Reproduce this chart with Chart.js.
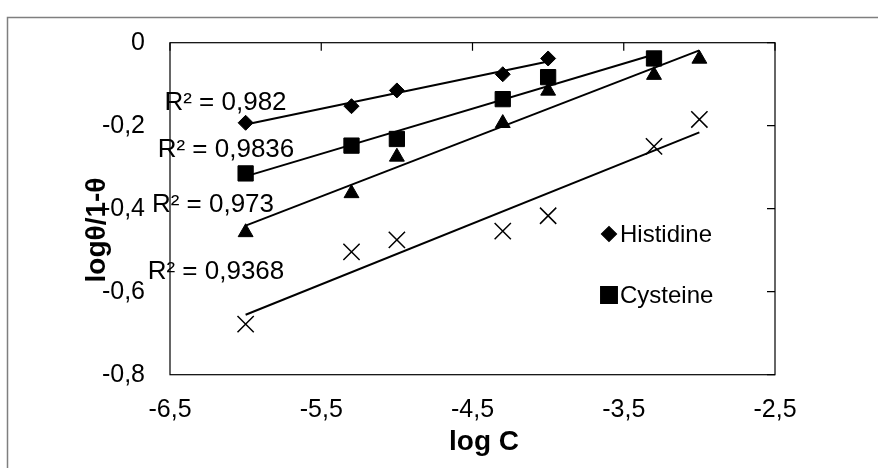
<!DOCTYPE html>
<html>
<head>
<meta charset="utf-8">
<script src="https://cdn.jsdelivr.net/npm/chart.js@4/dist/chart.umd.min.js"></script>
<style>
html,body{margin:0;padding:0;background:#fff;}
canvas{display:block;}
</style>
</head>
<body>
<canvas id="c" width="878" height="468"></canvas>
<script>
// ---- data ----
const logC = [-6, -5.3, -5, -4.3, -4, -3.3, -3];
const histidineY = [-0.193, -0.153, -0.115, -0.076, -0.038];
const cysteineY  = [-0.315, -0.248, -0.232, -0.136, -0.083, -0.038];
const series3Y   = [-0.457, -0.363, -0.275, -0.194, -0.116, -0.078, -0.039];
const series4Y   = [-0.678, -0.504, -0.475, -0.454, -0.417, -0.250, -0.185];
const seriesNames = ['Histidine', 'Cysteine', 'Series 3', 'Series 4'];
const legendShown = ['Histidine', 'Cysteine'];
const r2Texts = ['R² = 0,982', 'R² = 0,9836', 'R² = 0,973', 'R² = 0,9368'];
const xTickValues = [-6.5, -5.5, -4.5, -3.5, -2.5];
const yTickValues = [0, -0.2, -0.4, -0.6, -0.8];
const xTitle = 'log C';
const yTitle = 'logθ/1-θ';

const FONT = "'Liberation Sans', Arial, sans-serif";

function pts(ys) { return ys.map((y, i) => ({ x: logC[i], y: y })); }
// least-squares trend line (as Excel's linear trendline), from first to last x
function trend(ys) {
  const n = ys.length, xs = logC.slice(0, n);
  const mx = xs.reduce((a, b) => a + b, 0) / n, my = ys.reduce((a, b) => a + b, 0) / n;
  let sxy = 0, sxx = 0;
  for (let i = 0; i < n; i++) { sxy += (xs[i] - mx) * (ys[i] - my); sxx += (xs[i] - mx) ** 2; }
  const b = sxy / sxx, a = my - b * mx;
  return [{ x: xs[0], y: a + b * xs[0] }, { x: xs[n - 1], y: a + b * xs[n - 1] }];
}
function fmt(v) { return Math.abs(v) < 1e-9 ? '0' : Number(v).toFixed(1).replace('.', ','); }

const allY = [histidineY, cysteineY, series3Y, series4Y];
const markerStyles = [
  { pointStyle: 'rectRot', pointRadius: 7.5, borderWidth: 1 },
  { pointStyle: 'rect', pointRadius: 10.8, borderWidth: 1 },
  { pointStyle: 'triangle', pointRadius: 8.6, borderWidth: 1 },
  { pointStyle: 'crossRot', pointRadius: 11.5, borderWidth: 1.5 }
];

const datasets = [];
allY.forEach((ys, i) => {
  datasets.push(Object.assign({
    label: seriesNames[i], data: pts(ys), showLine: false,
    backgroundColor: '#000', borderColor: '#000'
  }, markerStyles[i]));
});
allY.forEach((ys, i) => {
  datasets.push({
    label: seriesNames[i] + ' trend', data: trend(ys), showLine: true,
    pointRadius: 0, borderColor: '#000', borderWidth: 2, backgroundColor: '#000', isTrend: true
  });
});

// annotation positions (data coordinates) for R² texts
const r2Anchors = [
  { x: -6.133, y: -0.145 }, { x: -6.13, y: -0.259 },
  { x: -6.216, y: -0.391 }, { x: -6.196, y: -0.553 }
];

const decor = {
  id: 'decor',
  beforeDraw(chart) {
    const ctx = chart.ctx;
    ctx.save();
    ctx.fillStyle = '#fff';
    ctx.fillRect(0, 0, chart.width, chart.height);
    ctx.strokeStyle = '#7f7f7f';
    ctx.lineWidth = 1.5;
    ctx.strokeRect(7.5, 17.5, 1000, 1000);
    ctx.restore();
  },
  afterDraw(chart) {
    const ctx = chart.ctx, a = chart.chartArea;
    const xs = chart.scales.x, ys = chart.scales.y;
    ctx.save();
    // plot area frame
    ctx.strokeStyle = '#000';
    ctx.lineWidth = 1.2;
    ctx.strokeRect(a.left, a.top, a.right - a.left, a.bottom - a.top);
    // tick marks: x axis crosses at y=0 (top), y axis at x=-2.5 (right)
    ctx.beginPath();
    xs.ticks.forEach(t => { const px = xs.getPixelForValue(t.value); ctx.moveTo(px, a.top); ctx.lineTo(px, a.top + 8); });
    ys.ticks.forEach(t => { const py = ys.getPixelForValue(t.value); ctx.moveTo(a.right, py); ctx.lineTo(a.right - 8, py); });
    ctx.stroke();
    // R² labels
    ctx.fillStyle = '#000';
    ctx.font = '26px ' + FONT;
    ctx.textAlign = 'center';
    ctx.textBaseline = 'middle';
    r2Texts.forEach((t, i) => {
      ctx.fillText(t, xs.getPixelForValue(r2Anchors[i].x), ys.getPixelForValue(r2Anchors[i].y));
    });
    // axis titles
    ctx.font = 'bold 28px ' + FONT;
    ctx.textBaseline = 'alphabetic';
    ctx.fillText(xTitle, 484, 450);
    ctx.save();
    ctx.translate(105, 230);
    ctx.rotate(-Math.PI / 2);
    ctx.fillText(yTitle, 0, 0);
    ctx.restore();
    // legend
    ctx.font = '24px ' + FONT;
    ctx.textAlign = 'left';
    legendShown.forEach((name, k) => {
      const ds = chart.data.datasets.find(d => d.label === name);
      const cy = 234 + k * 61;
      const r = k === 0 ? 7.5 : 11.8;
      Chart.helpers.drawPoint(ctx, { pointStyle: ds.pointStyle, radius: r, borderWidth: 1 }, 609, cy);
      ctx.fillStyle = '#000';
      ctx.strokeStyle = '#000';
      ctx.fillText(name, 620, cy + 8);
    });
    ctx.restore();
  }
};

new Chart(document.getElementById('c'), {
  type: 'scatter',
  data: { datasets: datasets },
  options: {
    responsive: false,
    animation: false,
    devicePixelRatio: 1,
    layout: { padding: { left: 0, top: 42.7, right: 103, bottom: 0 } },
    plugins: { legend: { display: false }, tooltip: { enabled: false } },
    scales: {
      x: {
        type: 'linear', min: -6.5, max: -2.5,
        afterBuildTicks: s => { s.ticks = xTickValues.map(v => ({ value: v })); },
        afterFit: s => { s.height = 93.3; },
        grid: { display: false, drawTicks: false }, border: { display: false },
        ticks: { callback: v => fmt(v), color: '#000', font: { family: FONT, size: 25 }, padding: 20, maxRotation: 0, autoSkip: false }
      },
      y: {
        type: 'linear', min: -0.8, max: 0,
        afterBuildTicks: s => { s.ticks = yTickValues.map(v => ({ value: v })); },
        afterFit: s => { s.width = 170; },
        grid: { display: false, drawTicks: false }, border: { display: false },
        ticks: { callback: v => fmt(v), color: '#000', font: { family: FONT, size: 25 }, padding: 25, autoSkip: false }
      }
    }
  },
  plugins: [decor]
});
</script>
</body>
</html>
